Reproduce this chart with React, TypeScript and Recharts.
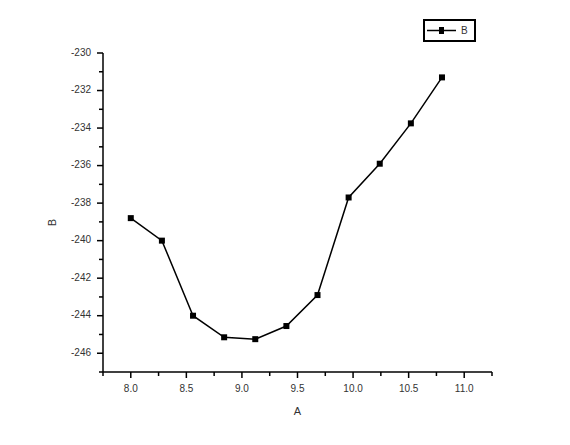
import { LineChart, Line, XAxis, YAxis, Legend } from "recharts";

const aValues = [8.0, 8.28, 8.56, 8.84, 9.12, 9.4, 9.68, 9.96, 10.24, 10.52, 10.8];
const bValues = [-238.8, -240.0, -244.0, -245.15, -245.25, -244.55, -242.9, -237.7, -235.9, -233.75, -231.3];

const xTicks = [7.75, 8.0, 8.25, 8.5, 8.75, 9.0, 9.25, 9.5, 9.75, 10.0, 10.25, 10.5, 10.75, 11.0, 11.25];
const xLabelled = [8.0, 8.5, 9.0, 9.5, 10.0, 10.5, 11.0];
const yTicks = [-247, -246, -245, -244, -243, -242, -241, -240, -239, -238, -237, -236, -235, -234, -233, -232, -231, -230];
const yLabelled = [-230, -232, -234, -236, -238, -240, -242, -244, -246];

const data = aValues.map((a, i) => ({ a, b: bValues[i] }));

const FONT = "'Liberation Sans', Arial, sans-serif";

function XTick(props: any) {
  const { x, y, payload } = props;
  const major = xLabelled.includes(payload.value);
  return (
    <g>
      <line x1={x} y1={y} x2={x} y2={y + (major ? 6 : 4)} stroke="#000" strokeWidth={1.5} />
      {major && (
        <text x={x} y={y + 17} textAnchor="middle" dominantBaseline="middle" fontSize={10} fill="#333" fontFamily={FONT}>
          {payload.value.toFixed(1)}
        </text>
      )}
    </g>
  );
}

function YTick(props: any) {
  const { x, y, payload } = props;
  const major = yLabelled.includes(payload.value);
  return (
    <g>
      <line x1={x} y1={y} x2={x - (major ? 6 : 4)} y2={y} stroke="#000" strokeWidth={1.5} />
      {major && (
        <text x={x - 12} y={y} textAnchor="end" dominantBaseline="middle" fontSize={10} fill="#333" fontFamily={FONT}>
          {payload.value}
        </text>
      )}
    </g>
  );
}

function SquareDot(props: any) {
  const { cx, cy } = props;
  if (cx == null || cy == null) return null;
  return <rect x={cx - 3} y={cy - 3} width={6} height={6} fill="#000" />;
}

function LegendBox() {
  return (
    <div style={{ width: 53, height: 23, border: "2px solid #000", boxSizing: "border-box", background: "#fff" }}>
      <svg width={49} height={19} style={{ display: "block" }}>
        <line x1={2} y1={9.5} x2={31} y2={9.5} stroke="#000" strokeWidth={1.5} />
        <rect x={14} y={6} width={5} height={7} fill="#000" />
        <text x={36} y={10} dominantBaseline="middle" fontSize={10} fill="#333" fontFamily={FONT}>
          B
        </text>
      </svg>
    </div>
  );
}

export default function App() {
  return (
    <div style={{ position: "absolute", left: 0, top: 0, width: 570, height: 445, background: "#fff" }}>
      <LineChart width={570} height={445} data={data} margin={{ top: 53, right: 78, bottom: 43, left: 53 }}>
        <XAxis
          type="number"
          dataKey="a"
          domain={[7.75, 11.25]}
          ticks={xTicks}
          interval={0}
          height={30}
          tickSize={0}
          tickMargin={0}
          tickLine={false}
          tick={<XTick />}
          axisLine={{ stroke: "#000", strokeWidth: 1.5 }}
          label={{
            content: (p: any) => (
              <text
                x={p.viewBox.x + p.viewBox.width / 2}
                y={p.viewBox.y + 40}
                textAnchor="middle"
                dominantBaseline="middle"
                fontSize={11}
                fill="#333"
                fontFamily={FONT}
              >
                A
              </text>
            ),
          }}
        />
        <YAxis
          type="number"
          domain={[-247, -230]}
          ticks={yTicks}
          interval={0}
          width={50}
          tickSize={0}
          tickMargin={0}
          tickLine={false}
          tick={<YTick />}
          axisLine={{ stroke: "#000", strokeWidth: 1.5 }}
          allowDataOverflow
          label={{
            content: (p: any) => {
              const cx = p.viewBox.x + 0;
              const cy = p.viewBox.y + p.viewBox.height / 2 + 10;
              return (
                <text
                  x={cx}
                  y={cy}
                  transform={`rotate(-90 ${cx} ${cy})`}
                  textAnchor="middle"
                  dominantBaseline="middle"
                  fontSize={11}
                  fill="#333"
                  fontFamily={FONT}
                >
                  B
                </text>
              );
            },
          }}
        />
        <Legend
          layout="horizontal"
          verticalAlign="middle"
          align="center"
          content={() => <LegendBox />}
          wrapperStyle={{ position: "absolute", left: 423, top: 19, width: 53, height: 23 }}
        />
        <Line
          type="linear"
          dataKey="b"
          name="B"
          stroke="#000"
          strokeWidth={1.5}
          dot={<SquareDot />}
          activeDot={false}
          isAnimationActive={false}
        />
      </LineChart>
    </div>
  );
}
